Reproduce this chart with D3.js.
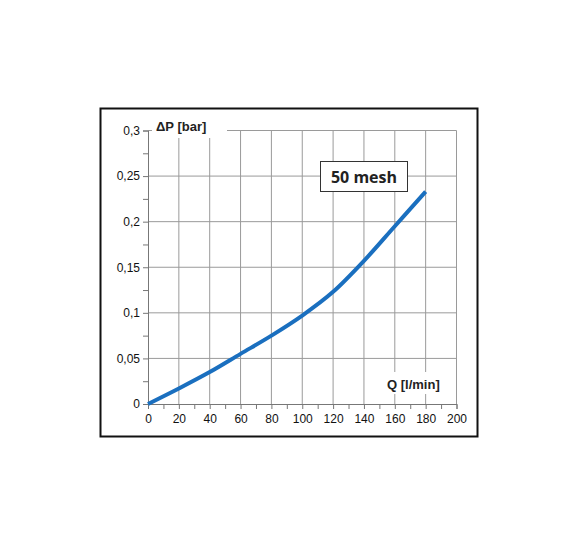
<!DOCTYPE html>
<html><head><meta charset="utf-8">
<script src="https://cdn.jsdelivr.net/npm/d3@7"></script>
<style>body{margin:0;background:#fff}</style>
</head><body>
<svg id="chart" width="581" height="549"></svg>
<script>
var flow = [0, 20, 40, 60, 80, 100, 120, 140, 160, 180];
var pressure = [0, 0.017, 0.035, 0.055, 0.075, 0.097, 0.123, 0.157, 0.195, 0.233];
var xTicks = [0, 20, 40, 60, 80, 100, 120, 140, 160, 180, 200];
var yTicks = [0, 0.05, 0.1, 0.15, 0.2, 0.25, 0.3];
var yLabels = ['0', '0,05', '0,1', '0,15', '0,2', '0,25', '0,3'];

var svg = d3.select('#chart');
var font = 'Arial, "Liberation Sans", sans-serif';

svg.append('rect').attr('x', 100.5).attr('y', 108.5).attr('width', 377).attr('height', 328)
    .attr('fill', 'none').attr('stroke', '#111').attr('stroke-width', 2);

var x = d3.scaleLinear().domain([0, 200]).range([148, 456.5]);
var y = d3.scaleLinear().domain([0, 0.3]).range([404, 130.5]);

// grid
svg.selectAll('.vg').data(xTicks.slice(1)).enter().append('line')
    .attr('x1', d => x(d)).attr('x2', d => x(d)).attr('y1', y(0)).attr('y2', y(0.3))
    .attr('stroke', '#9a9a9a').attr('stroke-width', 1);
svg.selectAll('.hg').data(yTicks.slice(1)).enter().append('line')
    .attr('x1', x(0)).attr('x2', x(200)).attr('y1', d => y(d)).attr('y2', d => y(d))
    .attr('stroke', '#9a9a9a').attr('stroke-width', 1);

// axes
var xAxis = d3.axisBottom(x).tickValues(d3.range(0, 201, 10)).tickSize(5)
    .tickFormat(d => d % 20 === 0 ? d : '');
var gx = svg.append('g').attr('transform', 'translate(0,' + y(0) + ')').call(xAxis);
var yAxis = d3.axisLeft(y).tickValues(d3.range(0, 0.3001, 0.025)).tickSize(5)
    .tickFormat(d => { var i = yTicks.findIndex(t => Math.abs(t - d) < 1e-6); return i >= 0 ? yLabels[i] : ''; });
var gy = svg.append('g').attr('transform', 'translate(' + x(0) + ',0)').call(yAxis);
[gx, gy].forEach(function(g) {
    g.select('.domain').attr('stroke', '#777');
    g.selectAll('line').attr('stroke', '#777');
    g.selectAll('text').attr('font-family', font).attr('font-size', 12).attr('fill', '#111');
});
gx.selectAll('line').attr('y2', 5);
gx.selectAll('text').attr('dy', '0.9em');
gy.selectAll('text').attr('x', -8);

// labels with white background
svg.append('rect').attr('x', 152).attr('y', 116).attr('width', 75).attr('height', 22).attr('fill', '#fff');
svg.append('text').attr('x', 156).attr('y', 131).attr('font-family', font).attr('font-weight', 'bold')
    .attr('font-size', 13).attr('fill', '#222').text('ΔP  [bar]');
svg.append('rect').attr('x', 383).attr('y', 372).attr('width', 73).attr('height', 22).attr('fill', '#fff');
svg.append('text').attr('x', 387).attr('y', 389).attr('font-family', font).attr('font-weight', 'bold')
    .attr('font-size', 13).attr('fill', '#222').text('Q  [l/min]');

// curve
var line = d3.line().x((d, i) => x(flow[i])).y(d => y(d)).curve(d3.curveMonotoneX);
svg.append('path').datum(pressure).attr('d', line).attr('fill', 'none')
    .attr('stroke', '#1a6fbf').attr('stroke-width', 4);

// legend box
svg.append('rect').attr('x', 320.5).attr('y', 161.5).attr('width', 87).attr('height', 30)
    .attr('fill', '#fff').attr('stroke', '#333').attr('stroke-width', 1);
svg.append('text').attr('x', 364).attr('y', 183).attr('text-anchor', 'middle')
    .attr('font-family', '"Open Sans", sans-serif').attr('font-weight', 'bold')
    .attr('font-size', 16).attr('fill', '#222').text('50 mesh');
</script>
</body></html>
